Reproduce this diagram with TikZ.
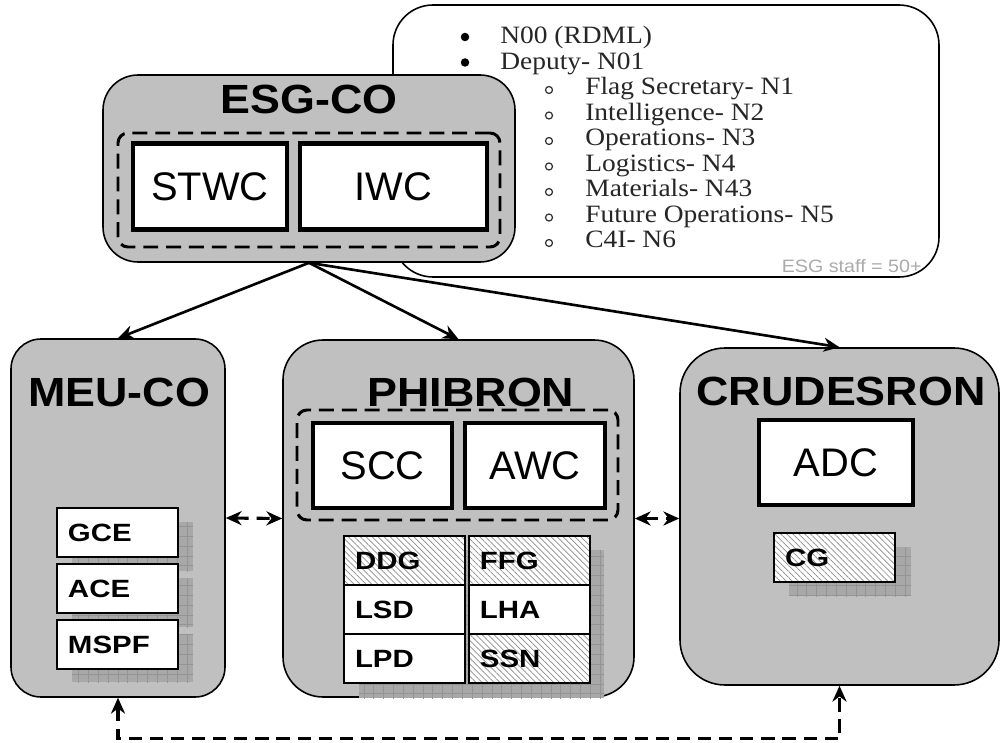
\documentclass[tikz,border=0pt]{standalone}
\usepackage{fontspec}
\setmainfont{Liberation Sans}
\newfontfamily\widesans{Liberation Sans}[FakeStretch=1.1]
\newfontfamily\cellsans{Liberation Sans}[FakeStretch=1.18]
\newfontfamily\wideserif{Liberation Serif}[FakeStretch=1.1]
\usetikzlibrary{arrows.meta, calc, fit, patterns.meta, positioning}
\definecolor{boxgray}{HTML}{C0C0C0}
\definecolor{shadegray}{HTML}{A8A8A8}
\definecolor{gridgray}{HTML}{949494}
\definecolor{hatchgray}{HTML}{8C8C8C}
\definecolor{notegray}{HTML}{ABABAB}

\tikzset{
  staffbox/.style={draw, line width=0.9pt, fill=white, rounded corners=0.8cm, inner sep=0pt},
  listtext/.style={font=\wideserif\fontsize{14.2}{16}\selectfont, text=black!85, inner sep=0pt},
  dotmark/.style={circle, fill=black, inner sep=0pt, minimum size=0.17cm},
  ringmark/.style={circle, draw=black!80, line width=0.7pt, inner sep=0pt, minimum size=0.14cm},
  note/.style={font=\widesans\fontsize{10.2}{12}\selectfont, text=notegray, inner sep=0pt},
  group/.style={draw, line width=0.9pt, fill=boxgray, rounded corners=0.8cm, inner sep=0pt},
  team/.style={draw, dashed, dash pattern=on 8.5pt off 4.5pt, line width=1.7pt, rounded corners=0.2cm, inner sep=0pt},
  role/.style={draw, line width=2.3pt, fill=white, inner sep=0pt, minimum height=1.72cm, font=\fontsize{22.7}{26}\selectfont},
  grouptitle/.style={font=\widesans\bfseries\fontsize{23.2}{26}\selectfont, inner sep=0pt},
  cell/.style={draw, line width=1.1pt, fill=white, outer sep=0pt, minimum height=0.98cm,
    text width=1.98cm, inner xsep=0.22cm, align=left, font=\cellsans\bfseries\fontsize{14.2}{16}\selectfont},
  hatchcell/.style={preaction={fill=white}, pattern={Lines[angle=-45, distance=2.4pt, line width=0.4pt]}, pattern color=hatchgray},
  shipshadow/.style={fill=shadegray, postaction={pattern={Hatch[angle=0, distance=5.6pt, line width=0.5pt]}, pattern color=gridgray}},
  flow/.style={->, line width=1.5pt},
  link/.style={<->, dashed, dash pattern=on 7.5pt off 4.5pt, line width=1.8pt}
}

\begin{document}
\begin{tikzpicture}[x=0.02cm, y=-0.02cm, >={Stealth[length=9pt, width=8pt]}]
\fill[white] (0,0) rectangle (1001,743);
\useasboundingbox (0,0) rectangle (1001,743);

% --- Staff callout ---
\node[staffbox, fit={(393,5) (939,277)}] (staff) {};
\node[dotmark] (b1) at (465,37) {};
\node[listtext, anchor=base west] (l1) at (500,44) {N00 (RDML)};
\node[dotmark] (b2) at (465,62.5) {};
\node[listtext, anchor=base west] (l2) at (500,69.5) {Deputy- N01};
\foreach \t [count=\i from 0] in {Flag Secretary- N1, Intelligence- N2, Operations- N3,
    Logistics- N4, Materials- N43, Future Operations- N5, C4I- N6} {
  \node[ringmark] (o\i) at (549,{90+25.5*\i}) {};
  \node[listtext, anchor=base west] (s\i) at (585,{95+25.5*\i}) {\t};
}
\node[note, anchor=base east] (staffsize) at (922,273) {ESG staff = 50+};

% --- ESG-CO ---
\node[group, rounded corners=0.7cm, fit={(103,75) (515,262)}] (esg) {};
\node[team, fit={(118,133) (500,247)}] (esgteam) {};
\node[role, minimum width=3.08cm] (stwc) at (210,186.5) {STWC};
\node[role, minimum width=3.74cm] (iwc) at (393.5,186.5) {IWC};
\node[grouptitle] (esgtitle) at (309,99) {ESG-CO};

% --- MEU-CO ---
\node[group, rounded corners=0.6cm, fit={(11,339) (225,697)}] (meu) {};
\node[grouptitle] (meutitle) at (119,392) {MEU-CO};
\fill[shipshadow] (72,522) rectangle (193,571);
\fill[shipshadow] (72,578) rectangle (193,627);
\fill[shipshadow] (72,634) rectangle (193,682);
\node[cell, anchor=north west] (gce) at (57,508) {GCE};
\node[cell, below=0.14cm of gce] (ace) {ACE};
\node[cell, below=0.14cm of ace] (mspf) {MSPF};

% --- PHIBRON ---
\node[group, fit={(283,340) (634,697)}] (phib) {};
\node[team, fit={(297,410) (618,520)}] (phibteam) {};
\node[role, minimum width=2.78cm, minimum height=1.7cm] (scc) at (382.5,465.5) {SCC};
\node[role, minimum width=2.8cm, minimum height=1.7cm] (awc) at (535,465.5) {AWC};
\node[grouptitle] (phibtitle) at (471,392) {PHIBRON};
\fill[shipshadow] (359,550) rectangle (604,698);
\node[cell, hatchcell, anchor=north west] (ddg) at (344,536) {DDG};
\node[cell, hatchcell, right=0.08cm of ddg] (ffg) {FFG};
\node[cell, below=0pt of ddg] (lsd) {LSD};
\node[cell, below=0pt of ffg] (lha) {LHA};
\node[cell, below=0pt of lsd] (lpd) {LPD};
\node[cell, hatchcell, below=0pt of lha] (ssn) {SSN};

% --- CRUDESRON ---
\node[group, rounded corners=0.9cm, fit={(680,348) (999,685)}] (crud) {};
\node[grouptitle] (crudtitle) at (841,391) {CRUDESRON};
\node[role, minimum width=3.08cm, minimum height=1.7cm] (adc) at (836,462.5) {ADC};
\fill[shipshadow] (789,547) rectangle (911,596);
\node[cell, hatchcell, anchor=north west] (cg) at (774,533) {CG};

% --- Command and coordination links ---
\draw[flow] (esg.south) -- (meu.north);
\draw[flow] (esg.south) -- (phib.north);
\draw[flow] (esg.south) -- (crud.north);
\draw[link] (meu.east) -- (phib.west);
\draw[link] (phib.east) -- (phib.east -| crud.west);
\draw[link] (meu.south) -- ++(0,41) -| (crud.south);

\end{tikzpicture}
\end{document}
